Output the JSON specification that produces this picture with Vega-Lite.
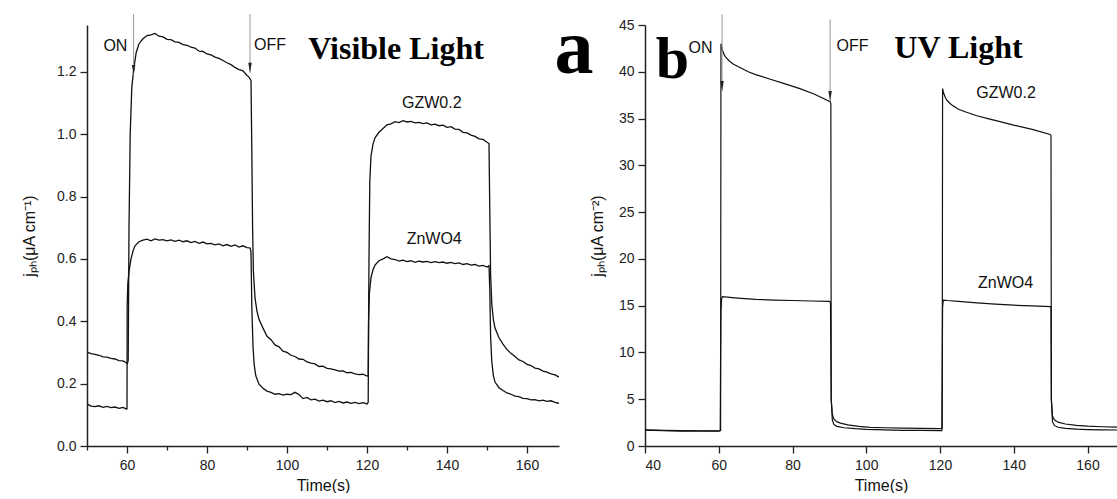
{
  "$schema": "https://vega.github.io/schema/vega-lite/v6.json",
  "background": "white",
  "padding": {"left": 21, "top": 11, "right": 0, "bottom": 0},
  "bounds": "flush",
  "spacing": 86,
  "config": {
    "view": {"stroke": null},
    "axis": {
      "grid": false,
      "domainColor": "#222",
      "domainWidth": 1.5,
      "tickColor": "#222",
      "tickWidth": 1.3,
      "labelColor": "#222",
      "labelFont": "Liberation Sans",
      "labelFontSize": 14,
      "titleFont": "Liberation Sans",
      "titleFontWeight": "normal",
      "titleColor": "#111",
      "titleFontSize": 16
    },
    "text": {"font": "Liberation Sans", "fontSize": 16, "color": "#111"}
  },
  "datasets": {
    "a": [
      {"s":"G","t":50,"v":0.301},{"s":"G","t":51,"v":0.296},{"s":"G","t":52,"v":0.294},{"s":"G","t":53,"v":0.291},{"s":"G","t":54,"v":0.286},{"s":"G","t":55,"v":0.285},{"s":"G","t":56,"v":0.281},{"s":"G","t":57,"v":0.279},{"s":"G","t":58,"v":0.274},{"s":"G","t":59,"v":0.273},{"s":"G","t":59.8,"v":0.267},{"s":"G","t":60.1,"v":0.264},{"s":"G","t":60.3,"v":0.275},{"s":"G","t":60.5,"v":0.7},{"s":"G","t":60.8,"v":1.0},{"s":"G","t":61.2,"v":1.15},{"s":"G","t":61.7,"v":1.21},{"s":"G","t":62.3,"v":1.262},{"s":"G","t":63,"v":1.29},{"s":"G","t":64,"v":1.306},{"s":"G","t":65,"v":1.316},{"s":"G","t":66,"v":1.318},{"s":"G","t":67,"v":1.323},{"s":"G","t":68,"v":1.314},{"s":"G","t":69,"v":1.312},{"s":"G","t":70,"v":1.304},{"s":"G","t":71,"v":1.303},{"s":"G","t":72,"v":1.296},{"s":"G","t":73,"v":1.294},{"s":"G","t":74,"v":1.287},{"s":"G","t":75,"v":1.285},{"s":"G","t":76,"v":1.279},{"s":"G","t":77,"v":1.276},{"s":"G","t":78,"v":1.266},{"s":"G","t":79,"v":1.265},{"s":"G","t":80,"v":1.257},{"s":"G","t":81,"v":1.254},{"s":"G","t":82,"v":1.247},{"s":"G","t":83,"v":1.243},{"s":"G","t":84,"v":1.236},{"s":"G","t":85,"v":1.229},{"s":"G","t":86,"v":1.223},{"s":"G","t":87,"v":1.214},{"s":"G","t":88,"v":1.207},{"s":"G","t":89,"v":1.203},{"s":"G","t":90,"v":1.188},{"s":"G","t":90.5,"v":1.183},{"s":"G","t":91,"v":1.172},{"s":"G","t":91.2,"v":0.95},{"s":"G","t":91.4,"v":0.7},{"s":"G","t":91.6,"v":0.56},{"s":"G","t":92,"v":0.475},{"s":"G","t":92.5,"v":0.432},{"s":"G","t":93,"v":0.406},{"s":"G","t":94,"v":0.378},{"s":"G","t":95,"v":0.352},{"s":"G","t":96,"v":0.341},{"s":"G","t":97,"v":0.324},{"s":"G","t":98,"v":0.318},{"s":"G","t":99,"v":0.304},{"s":"G","t":100,"v":0.3},{"s":"G","t":101,"v":0.291},{"s":"G","t":102,"v":0.287},{"s":"G","t":103,"v":0.279},{"s":"G","t":104,"v":0.278},{"s":"G","t":105,"v":0.27},{"s":"G","t":106,"v":0.266},{"s":"G","t":107,"v":0.263},{"s":"G","t":108,"v":0.255},{"s":"G","t":109,"v":0.256},{"s":"G","t":110,"v":0.249},{"s":"G","t":111,"v":0.247},{"s":"G","t":112,"v":0.244},{"s":"G","t":113,"v":0.24},{"s":"G","t":114,"v":0.241},{"s":"G","t":115,"v":0.235},{"s":"G","t":116,"v":0.236},{"s":"G","t":117,"v":0.231},{"s":"G","t":118,"v":0.229},{"s":"G","t":119,"v":0.23},{"s":"G","t":120,"v":0.224},{"s":"G","t":120.3,"v":0.226},{"s":"G","t":120.5,"v":0.6},{"s":"G","t":120.7,"v":0.85},{"s":"G","t":121,"v":0.93},{"s":"G","t":121.5,"v":0.968},{"s":"G","t":122,"v":0.988},{"s":"G","t":123,"v":1.006},{"s":"G","t":124,"v":1.018},{"s":"G","t":125,"v":1.03},{"s":"G","t":126,"v":1.033},{"s":"G","t":127,"v":1.04},{"s":"G","t":128,"v":1.037},{"s":"G","t":129,"v":1.043},{"s":"G","t":130,"v":1.039},{"s":"G","t":131,"v":1.041},{"s":"G","t":132,"v":1.036},{"s":"G","t":133,"v":1.038},{"s":"G","t":134,"v":1.034},{"s":"G","t":135,"v":1.036},{"s":"G","t":136,"v":1.03},{"s":"G","t":137,"v":1.032},{"s":"G","t":138,"v":1.027},{"s":"G","t":139,"v":1.029},{"s":"G","t":140,"v":1.022},{"s":"G","t":141,"v":1.024},{"s":"G","t":142,"v":1.016},{"s":"G","t":143,"v":1.015},{"s":"G","t":144,"v":1.006},{"s":"G","t":145,"v":1.004},{"s":"G","t":146,"v":0.997},{"s":"G","t":147,"v":0.993},{"s":"G","t":148,"v":0.985},{"s":"G","t":149,"v":0.983},{"s":"G","t":150,"v":0.974},{"s":"G","t":150.5,"v":0.97},{"s":"G","t":150.7,"v":0.75},{"s":"G","t":150.9,"v":0.55},{"s":"G","t":151.2,"v":0.455},{"s":"G","t":151.6,"v":0.405},{"s":"G","t":152,"v":0.378},{"s":"G","t":153,"v":0.347},{"s":"G","t":154,"v":0.327},{"s":"G","t":155,"v":0.309},{"s":"G","t":156,"v":0.297},{"s":"G","t":157,"v":0.287},{"s":"G","t":158,"v":0.276},{"s":"G","t":159,"v":0.271},{"s":"G","t":160,"v":0.262},{"s":"G","t":161,"v":0.258},{"s":"G","t":162,"v":0.25},{"s":"G","t":163,"v":0.247},{"s":"G","t":164,"v":0.24},{"s":"G","t":165,"v":0.237},{"s":"G","t":166,"v":0.231},{"s":"G","t":167,"v":0.228},{"s":"G","t":168,"v":0.221},
      {"s":"Z","t":50,"v":0.135},{"s":"Z","t":51,"v":0.128},{"s":"Z","t":52,"v":0.126},{"s":"Z","t":53,"v":0.129},{"s":"Z","t":54,"v":0.124},{"s":"Z","t":55,"v":0.127},{"s":"Z","t":56,"v":0.123},{"s":"Z","t":57,"v":0.125},{"s":"Z","t":58,"v":0.121},{"s":"Z","t":59,"v":0.124},{"s":"Z","t":59.9,"v":0.118},{"s":"Z","t":60,"v":0.12},{"s":"Z","t":60.05,"v":0.45},{"s":"Z","t":60.2,"v":0.52},{"s":"Z","t":60.5,"v":0.56},{"s":"Z","t":61,"v":0.6},{"s":"Z","t":61.5,"v":0.625},{"s":"Z","t":62,"v":0.642},{"s":"Z","t":63,"v":0.655},{"s":"Z","t":64,"v":0.66},{"s":"Z","t":65,"v":0.663},{"s":"Z","t":66,"v":0.658},{"s":"Z","t":67,"v":0.664},{"s":"Z","t":68,"v":0.66},{"s":"Z","t":69,"v":0.662},{"s":"Z","t":70,"v":0.658},{"s":"Z","t":71,"v":0.661},{"s":"Z","t":72,"v":0.656},{"s":"Z","t":73,"v":0.66},{"s":"Z","t":74,"v":0.655},{"s":"Z","t":75,"v":0.658},{"s":"Z","t":76,"v":0.652},{"s":"Z","t":77,"v":0.656},{"s":"Z","t":78,"v":0.65},{"s":"Z","t":79,"v":0.654},{"s":"Z","t":80,"v":0.648},{"s":"Z","t":81,"v":0.65},{"s":"Z","t":82,"v":0.645},{"s":"Z","t":83,"v":0.648},{"s":"Z","t":84,"v":0.642},{"s":"Z","t":85,"v":0.646},{"s":"Z","t":86,"v":0.64},{"s":"Z","t":87,"v":0.645},{"s":"Z","t":88,"v":0.638},{"s":"Z","t":89,"v":0.642},{"s":"Z","t":90,"v":0.636},{"s":"Z","t":90.8,"v":0.635},{"s":"Z","t":91,"v":0.62},{"s":"Z","t":91.2,"v":0.45},{"s":"Z","t":91.5,"v":0.32},{"s":"Z","t":91.8,"v":0.26},{"s":"Z","t":92.2,"v":0.225},{"s":"Z","t":93,"v":0.198},{"s":"Z","t":94,"v":0.185},{"s":"Z","t":95,"v":0.176},{"s":"Z","t":96,"v":0.172},{"s":"Z","t":97,"v":0.166},{"s":"Z","t":98,"v":0.168},{"s":"Z","t":99,"v":0.163},{"s":"Z","t":100,"v":0.166},{"s":"Z","t":101,"v":0.165},{"s":"Z","t":102,"v":0.172},{"s":"Z","t":103,"v":0.165},{"s":"Z","t":104,"v":0.152},{"s":"Z","t":105,"v":0.156},{"s":"Z","t":106,"v":0.148},{"s":"Z","t":107,"v":0.15},{"s":"Z","t":108,"v":0.144},{"s":"Z","t":109,"v":0.147},{"s":"Z","t":110,"v":0.142},{"s":"Z","t":111,"v":0.145},{"s":"Z","t":112,"v":0.139},{"s":"Z","t":113,"v":0.143},{"s":"Z","t":114,"v":0.138},{"s":"Z","t":115,"v":0.141},{"s":"Z","t":116,"v":0.137},{"s":"Z","t":117,"v":0.14},{"s":"Z","t":118,"v":0.136},{"s":"Z","t":119,"v":0.139},{"s":"Z","t":120,"v":0.135},{"s":"Z","t":120.3,"v":0.14},{"s":"Z","t":120.4,"v":0.4},{"s":"Z","t":120.6,"v":0.49},{"s":"Z","t":121,"v":0.54},{"s":"Z","t":121.5,"v":0.565},{"s":"Z","t":122,"v":0.58},{"s":"Z","t":123,"v":0.594},{"s":"Z","t":124,"v":0.6},{"s":"Z","t":125,"v":0.607},{"s":"Z","t":126,"v":0.6},{"s":"Z","t":127,"v":0.598},{"s":"Z","t":128,"v":0.593},{"s":"Z","t":129,"v":0.596},{"s":"Z","t":130,"v":0.591},{"s":"Z","t":131,"v":0.594},{"s":"Z","t":132,"v":0.589},{"s":"Z","t":133,"v":0.593},{"s":"Z","t":134,"v":0.59},{"s":"Z","t":135,"v":0.592},{"s":"Z","t":136,"v":0.588},{"s":"Z","t":137,"v":0.591},{"s":"Z","t":138,"v":0.588},{"s":"Z","t":139,"v":0.59},{"s":"Z","t":140,"v":0.586},{"s":"Z","t":141,"v":0.589},{"s":"Z","t":142,"v":0.585},{"s":"Z","t":143,"v":0.587},{"s":"Z","t":144,"v":0.582},{"s":"Z","t":145,"v":0.585},{"s":"Z","t":146,"v":0.58},{"s":"Z","t":147,"v":0.582},{"s":"Z","t":148,"v":0.577},{"s":"Z","t":149,"v":0.579},{"s":"Z","t":150,"v":0.574},{"s":"Z","t":150.5,"v":0.578},{"s":"Z","t":150.7,"v":0.5},{"s":"Z","t":150.9,"v":0.35},{"s":"Z","t":151.2,"v":0.27},{"s":"Z","t":151.6,"v":0.225},{"s":"Z","t":152,"v":0.205},{"s":"Z","t":153,"v":0.187},{"s":"Z","t":154,"v":0.178},{"s":"Z","t":155,"v":0.17},{"s":"Z","t":156,"v":0.166},{"s":"Z","t":157,"v":0.16},{"s":"Z","t":158,"v":0.158},{"s":"Z","t":159,"v":0.153},{"s":"Z","t":160,"v":0.152},{"s":"Z","t":161,"v":0.148},{"s":"Z","t":162,"v":0.149},{"s":"Z","t":163,"v":0.145},{"s":"Z","t":164,"v":0.147},{"s":"Z","t":165,"v":0.143},{"s":"Z","t":166,"v":0.145},{"s":"Z","t":167,"v":0.14},{"s":"Z","t":168,"v":0.137}
    ],
    "b": [
      {"s":"G","t":40,"v":1.72},{"s":"G","t":45,"v":1.68},{"s":"G","t":50,"v":1.65},{"s":"G","t":55,"v":1.63},{"s":"G","t":60,"v":1.62},{"s":"G","t":60.5,"v":1.65},{"s":"G","t":60.6,"v":43.0},{"s":"G","t":61,"v":42.3},{"s":"G","t":61.5,"v":41.8},{"s":"G","t":62,"v":41.5},{"s":"G","t":63,"v":41.1},{"s":"G","t":64,"v":40.8},{"s":"G","t":66,"v":40.4},{"s":"G","t":68,"v":40.0},{"s":"G","t":70,"v":39.7},{"s":"G","t":74,"v":39.2},{"s":"G","t":78,"v":38.7},{"s":"G","t":82,"v":38.2},{"s":"G","t":86,"v":37.6},{"s":"G","t":90.2,"v":36.8},{"s":"G","t":90.4,"v":36.6},{"s":"G","t":90.5,"v":5.0},{"s":"G","t":90.8,"v":3.4},{"s":"G","t":91.2,"v":2.9},{"s":"G","t":92,"v":2.6},{"s":"G","t":93,"v":2.45},{"s":"G","t":95,"v":2.25},{"s":"G","t":98,"v":2.1},{"s":"G","t":101,"v":2.0},{"s":"G","t":105,"v":1.95},{"s":"G","t":110,"v":1.9},{"s":"G","t":115,"v":1.88},{"s":"G","t":120,"v":1.86},{"s":"G","t":120.6,"v":1.9},{"s":"G","t":120.7,"v":38.2},{"s":"G","t":121,"v":37.7},{"s":"G","t":121.5,"v":37.2},{"s":"G","t":122,"v":36.9},{"s":"G","t":123,"v":36.5},{"s":"G","t":125,"v":36.0},{"s":"G","t":127,"v":35.7},{"s":"G","t":130,"v":35.3},{"s":"G","t":133,"v":35.0},{"s":"G","t":136,"v":34.7},{"s":"G","t":140,"v":34.3},{"s":"G","t":145,"v":33.85},{"s":"G","t":149.9,"v":33.3},{"s":"G","t":150.1,"v":33.2},{"s":"G","t":150.2,"v":5.0},{"s":"G","t":150.5,"v":3.2},{"s":"G","t":151,"v":2.8},{"s":"G","t":152,"v":2.55},{"s":"G","t":154,"v":2.35},{"s":"G","t":157,"v":2.2},{"s":"G","t":160,"v":2.12},{"s":"G","t":164,"v":2.06},{"s":"G","t":168,"v":2.02},
      {"s":"Z","t":40,"v":1.7},{"s":"Z","t":45,"v":1.64},{"s":"Z","t":50,"v":1.6},{"s":"Z","t":55,"v":1.6},{"s":"Z","t":60,"v":1.6},{"s":"Z","t":60.4,"v":1.65},{"s":"Z","t":60.5,"v":9.5},{"s":"Z","t":60.6,"v":14.5},{"s":"Z","t":60.8,"v":15.8},{"s":"Z","t":61,"v":15.96},{"s":"Z","t":63,"v":15.88},{"s":"Z","t":66,"v":15.78},{"s":"Z","t":70,"v":15.68},{"s":"Z","t":75,"v":15.6},{"s":"Z","t":80,"v":15.55},{"s":"Z","t":85,"v":15.5},{"s":"Z","t":90.1,"v":15.46},{"s":"Z","t":90.3,"v":15.3},{"s":"Z","t":90.5,"v":5.0},{"s":"Z","t":90.8,"v":2.8},{"s":"Z","t":91.2,"v":2.3},{"s":"Z","t":92,"v":2.1},{"s":"Z","t":94,"v":1.95},{"s":"Z","t":97,"v":1.85},{"s":"Z","t":100,"v":1.78},{"s":"Z","t":105,"v":1.72},{"s":"Z","t":110,"v":1.68},{"s":"Z","t":115,"v":1.66},{"s":"Z","t":120,"v":1.64},{"s":"Z","t":120.5,"v":1.65},{"s":"Z","t":120.6,"v":8.0},{"s":"Z","t":120.7,"v":14.8},{"s":"Z","t":120.9,"v":15.6},{"s":"Z","t":122,"v":15.55},{"s":"Z","t":125,"v":15.45},{"s":"Z","t":130,"v":15.3},{"s":"Z","t":135,"v":15.17},{"s":"Z","t":140,"v":15.05},{"s":"Z","t":145,"v":14.97},{"s":"Z","t":149.9,"v":14.9},{"s":"Z","t":150.1,"v":14.8},{"s":"Z","t":150.2,"v":5.0},{"s":"Z","t":150.5,"v":2.6},{"s":"Z","t":151,"v":2.2},{"s":"Z","t":152,"v":2.0},{"s":"Z","t":154,"v":1.88},{"s":"Z","t":157,"v":1.8},{"s":"Z","t":160,"v":1.76},{"s":"Z","t":164,"v":1.73},{"s":"Z","t":168,"v":1.71}
    ],
    "ra": [{"t":61.65,"v":1.385,"v2":1.19},{"t":90.75,"v":1.385,"v2":1.197}],
    "rb": [{"t":60.9,"v":46.14,"v2":37.94},{"t":90.2,"v":45.6,"v2":36.87}],
    "ta": [
      {"t":57.1,"v":1.282,"label":"ON"},
      {"t":95.75,"v":1.286,"label":"OFF"},
      {"t":136.2,"v":1.099,"label":"GZW0.2"},
      {"t":136.8,"v":0.665,"label":"ZnWO4"}
    ],
    "tb": [
      {"t":55.05,"v":42.54,"label":"ON"},
      {"t":96.27,"v":42.75,"label":"OFF"},
      {"t":137.9,"v":37.78,"label":"GZW0.2"},
      {"t":137.8,"v":17.37,"label":"ZnWO4"}
    ],
    "sa": [
      {"t":127.25,"v":1.24,"label":"Visible Light","size":32},
      {"t":171.75,"v":1.196,"label":"a","size":78}
    ],
    "sb": [
      {"t":125.0,"v":41.5,"label":"UV Light","size":32},
      {"t":47.46,"v":39.33,"label":"b","size":60}
    ]
  },
  "hconcat": [
    {
      "width": 472,
      "height": 421,
      "layer": [
        {
          "data": {"name": "a"},
          "mark": {"type": "line", "color": "#111", "strokeWidth": 1.3, "clip": true},
          "encoding": {
            "x": {"field": "t", "type": "quantitative", "scale": {"domain": [50, 168], "nice": false, "zero": false},
              "axis": {"title": "Time(s)", "titlePadding": 5, "values": [50,60,70,80,90,100,110,120,130,140,150,160],
                "labelExpr": "datum.value % 20 == 0 ? datum.label : ''",
                "tickSize": {"condition": {"test": "datum.value % 20 == 0", "value": 7}, "value": 4}, "labelPadding": 5}},
            "y": {"field": "v", "type": "quantitative", "scale": {"domain": [0, 1.35], "nice": false},
              "axis": {"title": "jₚₕ(μA cm⁻¹)", "titlePadding": 19, "format": ".1f",
                "values": [0,0.1,0.2,0.3,0.4,0.5,0.6,0.7,0.8,0.9,1.0,1.1,1.2,1.3],
                "labelExpr": "round(datum.value*10) % 2 == 0 ? datum.label : ''",
                "tickSize": {"condition": {"test": "round(datum.value*10) % 2 == 0", "value": 7}, "value": 4}, "labelPadding": 4}},
            "detail": {"field": "s"}
          }
        },
        {
          "data": {"name": "ra"},
          "mark": {"type": "rule", "color": "#999", "strokeWidth": 1},
          "encoding": {
            "x": {"field": "t", "type": "quantitative"},
            "y": {"field": "v", "type": "quantitative"},
            "y2": {"field": "v2"}
          }
        },
        {
          "data": {"name": "ra"},
          "mark": {"type": "point", "shape": "M -0.35 -2 L 0.35 -2 L 0 0 Z", "filled": true, "color": "#222", "size": 100, "opacity": 1},
          "encoding": {
            "x": {"field": "t", "type": "quantitative"},
            "y": {"field": "v2", "type": "quantitative"}
          }
        },
        {
          "data": {"name": "ta"},
          "mark": {"type": "text", "align": "center", "baseline": "middle"},
          "encoding": {
            "x": {"field": "t", "type": "quantitative"},
            "y": {"field": "v", "type": "quantitative"},
            "text": {"field": "label"}
          }
        },
        {
          "data": {"name": "sa"},
          "mark": {"type": "text", "align": "center", "baseline": "alphabetic", "font": "Liberation Serif", "fontWeight": "bold", "color": "#000"},
          "encoding": {
            "x": {"field": "t", "type": "quantitative"},
            "y": {"field": "v", "type": "quantitative"},
            "text": {"field": "label"},
            "size": {"field": "size", "type": "quantitative", "scale": null, "legend": null}
          }
        }
      ]
    },
    {
      "width": 472,
      "height": 421,
      "layer": [
        {
          "data": {"name": "b"},
          "mark": {"type": "line", "color": "#111", "strokeWidth": 1.2, "clip": true},
          "encoding": {
            "x": {"field": "t", "type": "quantitative", "scale": {"domain": [40, 168], "nice": false, "zero": false},
              "axis": {"title": "Time(s)", "titlePadding": 5, "values": [40,50,60,70,80,90,100,110,120,130,140,150,160],
                "labelExpr": "datum.value % 20 == 0 ? datum.label : ''",
                "tickSize": {"condition": {"test": "datum.value % 20 == 0", "value": 7}, "value": 4}, "labelPadding": 5}},
            "y": {"field": "v", "type": "quantitative", "scale": {"domain": [0, 45], "nice": false},
              "axis": {"title": "jₚₕ(μA cm⁻²)", "titlePadding": 13,
                "values": [0,2.5,5,7.5,10,12.5,15,17.5,20,22.5,25,27.5,30,32.5,35,37.5,40,42.5,45],
                "labelExpr": "datum.value % 5 == 0 ? datum.label : ''",
                "tickSize": {"condition": {"test": "datum.value % 5 == 0", "value": 7}, "value": 4}, "labelPadding": 4}},
            "detail": {"field": "s"}
          }
        },
        {
          "data": {"name": "rb"},
          "mark": {"type": "rule", "color": "#999", "strokeWidth": 1},
          "encoding": {
            "x": {"field": "t", "type": "quantitative"},
            "y": {"field": "v", "type": "quantitative"},
            "y2": {"field": "v2"}
          }
        },
        {
          "data": {"name": "rb"},
          "mark": {"type": "point", "shape": "M -0.35 -2 L 0.35 -2 L 0 0 Z", "filled": true, "color": "#222", "size": 100, "opacity": 1},
          "encoding": {
            "x": {"field": "t", "type": "quantitative"},
            "y": {"field": "v2", "type": "quantitative"}
          }
        },
        {
          "data": {"name": "tb"},
          "mark": {"type": "text", "align": "center", "baseline": "middle"},
          "encoding": {
            "x": {"field": "t", "type": "quantitative"},
            "y": {"field": "v", "type": "quantitative"},
            "text": {"field": "label"}
          }
        },
        {
          "data": {"name": "sb"},
          "mark": {"type": "text", "align": "center", "baseline": "alphabetic", "font": "Liberation Serif", "fontWeight": "bold", "color": "#000"},
          "encoding": {
            "x": {"field": "t", "type": "quantitative"},
            "y": {"field": "v", "type": "quantitative"},
            "text": {"field": "label"},
            "size": {"field": "size", "type": "quantitative", "scale": null, "legend": null}
          }
        }
      ]
    }
  ]
}
